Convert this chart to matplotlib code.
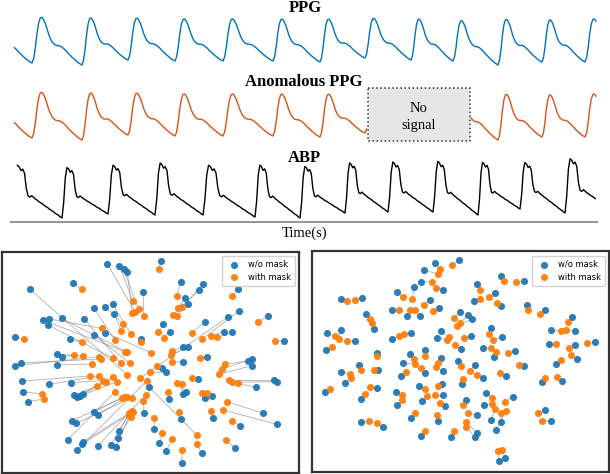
import numpy as np
import matplotlib
matplotlib.use("Agg")
import matplotlib.pyplot as plt
from matplotlib.patches import Rectangle
from matplotlib.collections import LineCollection

# ---------------- waveform data ----------------
# one normalised PPG beat (trough -> peak -> trough), equally spaced samples
ppg_shape = [0.00, 0.10, 0.33, 0.65, 0.88, 0.99, 1.00, 0.95, 0.87, 0.76, 0.64, 0.55, 0.48,
             0.44, 0.41, 0.40, 0.40, 0.39, 0.37, 0.34, 0.31, 0.27, 0.23, 0.20, 0.16, 0.13,
             0.10, 0.07, 0.04, 0.02, 0.00]
ppg_onsets = [-16, 32, 82, 128, 175, 223, 273, 320, 365, 411, 453, 498, 542, 585, 632]
ppg_troughs = [63, 63, 65, 60, 61, 61, 61, 62, 58, 60, 61, 65, 62, 62, 62]
ppg_peaks = [18, 17, 19, 18, 19, 19, 19, 20, 18, 19, 20, 20, 20, 19]
ppg_span = (14, 597)
anom_gap = (367, 471)

# one normalised ABP beat
abp_shape = [0.00, 0.30, 0.80, 1.00, 0.97, 0.90, 0.93, 0.85, 0.55, 0.40, 0.38, 0.41, 0.38,
             0.35, 0.33, 0.30, 0.28, 0.26, 0.23, 0.21, 0.19, 0.16, 0.14, 0.12, 0.09, 0.07,
             0.05, 0.02, 0.00]
abp_onsets = [12, 62, 108, 155, 203, 255, 300, 345, 388, 433, 478, 520, 565, 612]
abp_troughs = [215, 218, 214, 215, 215, 217, 218, 213, 212, 212, 215, 209, 213, 210]
abp_peaks = [165, 168, 165, 163, 165, 165, 167, 163, 162, 161, 163, 162, 159]
abp_span = (16.5, 596)

# ---------------- embedding data (t-SNE coordinates) ----------------
left_wo_x = [483, 322, 358, 371, 382, 430, 220, 90, 543, 610, 597, 555, 565, 713, 282, 315, 338, 343,
             718, 685, 803, 853, 45, 128, 148, 185, 143, 253, 490, 510, 615, 673, 697, 210, 282, 316,
             422, 548, 565, 620, 550, 172, 185, 45, 63, 170, 743, 756, 757, 486, 498, 65, 148, 212,
             595, 823, 832, 767, 68, 85, 222, 230, 240, 250, 448, 508, 548, 558, 615, 637, 432, 790,
             830, 282, 294, 215, 228, 543, 640, 720, 462, 357, 203, 250, 247, 293, 355, 332, 348, 232,
             478, 498, 705, 605, 545]
left_wo_y = [49, 57, 62, 73, 82, 142, 115, 133, 112, 118, 135, 160, 178, 133, 190, 186, 177, 207,
             198, 215, 212, 287, 275, 225, 222, 220, 240, 222, 237, 260, 230, 260, 262, 283, 270, 263,
             283, 305, 305, 335, 350, 328, 335, 362, 354, 360, 348, 342, 362, 370, 382, 408, 418, 413,
             402, 405, 410, 427, 440, 470, 450, 455, 453, 447, 427, 463, 447, 441, 458, 452, 505, 505,
             538, 500, 510, 527, 535, 522, 520, 543, 552, 558, 585, 590, 597, 603, 580, 600, 605, 615,
             595, 618, 608, 625, 653]
left_w_x = [476, 405, 398, 416, 397, 431, 245, 382, 530, 547, 519, 533, 532, 697, 345, 370, 393, 363,
            607, 420, 775, 826, 73, 375, 305, 382, 339, 362, 475, 492, 575, 633, 652, 245, 390, 453,
            423, 517, 512, 600, 517, 248, 223, 297, 302, 275, 675, 667, 658, 470, 450, 270, 297, 308,
            577, 688, 697, 715, 125, 132, 292, 318, 350, 340, 590, 503, 545, 530, 605, 620, 430, 682,
            670, 373, 380, 365, 397, 537, 632, 695, 463, 388, 345, 397, 400, 437, 392, 386, 393, 440,
            487, 517, 677, 590, 547]
left_w_y = [73, 200, 168, 193, 203, 213, 133, 390, 152, 185, 210, 188, 212, 152, 285, 237, 268, 257,
            282, 400, 232, 289, 283, 320, 250, 322, 340, 355, 262, 278, 263, 272, 277, 292, 355, 323,
            290, 318, 330, 338, 352, 333, 330, 335, 342, 357, 358, 372, 387, 362, 382, 393, 393, 407,
            398, 405, 412, 415, 447, 462, 423, 410, 410, 395, 570, 440, 418, 415, 443, 443, 467, 470,
            495, 455, 455, 460, 458, 500, 497, 527, 520, 505, 440, 498, 500, 450, 515, 510, 500, 408,
            565, 583, 585, 597, 615]

right_wo_x = [461, 389, 356, 347, 414, 327, 277, 375, 401, 261, 305, 346, 109, 171, 184, 207, 589, 657,
              516, 570, 506, 589, 667, 721, 801, 464, 490, 501, 66, 107, 151, 64, 319, 262, 407, 397,
              499, 467, 559, 591, 533, 568, 631, 739, 809, 731, 809, 871, 817, 754, 216, 314, 361, 293,
              359, 407, 415, 460, 509, 533, 602, 658, 161, 107, 119, 218, 288, 471, 712, 772, 59, 217,
              169, 274, 343, 412, 413, 277, 352, 421, 482, 543, 536, 625, 589, 559, 574, 516, 317, 399,
              516, 511, 169, 233, 347, 439, 719, 737, 583, 601]
right_wo_y = [45, 53, 75, 112, 134, 127, 142, 165, 190, 195, 215, 215, 162, 160, 207, 254, 93, 109,
              118, 145, 167, 185, 182, 197, 217, 203, 211, 223, 265, 255, 290, 317, 264, 283, 260, 279,
              275, 312, 249, 277, 309, 338, 319, 255, 259, 299, 301, 293, 344, 358, 325, 327, 315, 354,
              385, 340, 379, 349, 360, 399, 394, 365, 360, 382, 415, 377, 394, 419, 412, 410, 442, 429,
              462, 442, 424, 419, 450, 481, 469, 484, 467, 445, 481, 457, 534, 527, 556, 511, 521, 529,
              565, 579, 534, 548, 576, 579, 496, 531, 649, 641]
right_w_x = [442, 404, 399, 381, 392, 322, 294, 356, 384, 282, 314, 331, 127, 151, 194, 201, 597, 634,
             526, 551, 526, 576, 669, 706, 789, 446, 464, 457, 91, 102, 127, 82, 297, 281, 432, 426,
             477, 450, 552, 564, 557, 572, 609, 767, 782, 754, 791, 847, 797, 769, 216, 327, 359, 331,
             349, 399, 394, 467, 496, 517, 584, 642, 169, 134, 137, 206, 304, 474, 721, 755, 76, 196,
             179, 290, 361, 398, 389, 292, 366, 404, 475, 561, 561, 601, 587, 571, 602, 489, 329, 397,
             483, 483, 193, 215, 359, 447, 699, 712, 579, 591]
right_w_y = [61, 73, 87, 110, 128, 162, 157, 180, 200, 195, 195, 195, 167, 165, 223, 235, 109, 112,
             135, 155, 163, 175, 197, 207, 232, 220, 235, 243, 275, 282, 289, 307, 267, 275, 277, 285,
             279, 302, 267, 285, 309, 322, 325, 259, 257, 299, 309, 295, 332, 345, 334, 343, 333, 359,
             370, 355, 367, 364, 380, 392, 385, 362, 377, 387, 399, 377, 382, 402, 399, 397, 434, 427,
             447, 452, 432, 423, 450, 467, 455, 476, 481, 459, 479, 471, 507, 492, 499, 507, 506, 511,
             534, 547, 531, 537, 559, 559, 506, 529, 619, 617]

legend_labels = ["w/o mask", "with mask"]
top_titles = ["PPG", "Anomalous PPG", "ABP"]
xlabel = "Time(s)"
box_text = ["No", "signal"]

# ---------------- figure ----------------
W, H = 610, 474
fig = plt.figure(figsize=(W / 100, H / 100), dpi=100)


def px_axes(x0, y0, x1, y1):
    return fig.add_axes([x0 / W, 1 - y1 / H, (x1 - x0) / W, (y1 - y0) / H])


def build(onsets, troughs, peaks, shape, span):
    n = len(shape)
    shp = np.asarray(shape, dtype=float)
    xs, ys = [], []
    for i in range(len(onsets) - 1):
        f = np.linspace(0, 1, n)[:-1]
        x = onsets[i] + f * (onsets[i + 1] - onsets[i])
        base = troughs[i] + f * (troughs[i + 1] - troughs[i])
        y = base - shp[:-1] * (troughs[i] - peaks[i])
        xs.append(x)
        ys.append(y)
    x = np.concatenate(xs)
    y = np.concatenate(ys)
    m = (x >= span[0]) & (x <= span[1])
    return x[m], y[m]


serif = ["Liberation Serif", "DejaVu Serif"]

top = px_axes(0, 0, 610, 245)
top.set_xlim(0, 610)
top.set_ylim(245, 0)
top.axis("off")

px, py = build(ppg_onsets, ppg_troughs, ppg_peaks, ppg_shape, ppg_span)
top.plot(px, py, color="#0072BD", lw=1.0, solid_joinstyle="round")

ay = py + 75.0
ay = np.where((px > anom_gap[0]) & (px < anom_gap[1]), np.nan, ay)
top.plot(px, ay, color="#D95319", lw=1.0, solid_joinstyle="round")

bx, by = build(abp_onsets, abp_troughs, abp_peaks, abp_shape, abp_span)
top.plot(bx, by, color="black", lw=1.0, solid_joinstyle="round")

top.add_patch(Rectangle((368, 88.3), 102, 52.3, facecolor="#e6e6e6", edgecolor="#333333",
                        linestyle=":", lw=1.1, zorder=3))
top.text(419, 112.5, box_text[0], ha="center", va="baseline", fontsize=10.5, family=serif, zorder=4)
top.text(419, 129.5, box_text[1], ha="center", va="baseline", fontsize=10.5, family=serif, zorder=4)

top.text(305, 12, top_titles[0], ha="center", va="baseline", fontsize=12, fontweight="bold", family=serif)
top.text(304, 86, top_titles[1], ha="center", va="baseline", fontsize=12, fontweight="bold", family=serif)
top.text(304, 161.5, top_titles[2], ha="center", va="baseline", fontsize=12, fontweight="bold", family=serif)

top.hlines(221.5, 10, 598, color="#8c8c8c", lw=1.3)
top.text(305, 236.5, xlabel, ha="center", va="baseline", fontsize=10.5, family=serif)

blue, orange = "#1f77b4", "#ff7f0e"


def panel(ax, wx, wy, mx, my, xlim, ylim):
    segs = [[(a, b), (c, d)] for a, b, c, d in zip(wx, wy, mx, my)]
    ax.add_collection(LineCollection(segs, colors="#8c8c8c", linewidths=0.7, alpha=0.6, zorder=1))
    ax.scatter(wx, wy, s=26, color=blue, alpha=0.95, linewidths=0, zorder=2, label=legend_labels[0])
    ax.scatter(mx, my, s=26, color=orange, alpha=0.95, linewidths=0, zorder=3, label=legend_labels[1])
    ax.set_xlim(*xlim)
    ax.set_ylim(*ylim)
    ax.set_xticks([])
    ax.set_yticks([])
    for s in ax.spines.values():
        s.set_color("#333333")
        s.set_linewidth(1.6)
    ax.legend(loc="upper right", fontsize=6, scatterpoints=1, borderaxespad=0.5,
              handletextpad=0.6, borderpad=0.5, labelspacing=0.45, edgecolor="#cccccc",
              framealpha=0.9)


axL = px_axes(2, 251.5, 299, 473)
panel(axL, left_wo_x, left_wo_y, left_w_x, left_w_y, (6, 897), (684, 19.5))

axR = px_axes(312, 251.5, 609, 472.3)
panel(axR, right_wo_x, right_wo_y, right_w_x, right_w_y, (21, 912), (684, 19.5))

fig.savefig("out.png", dpi=100)
